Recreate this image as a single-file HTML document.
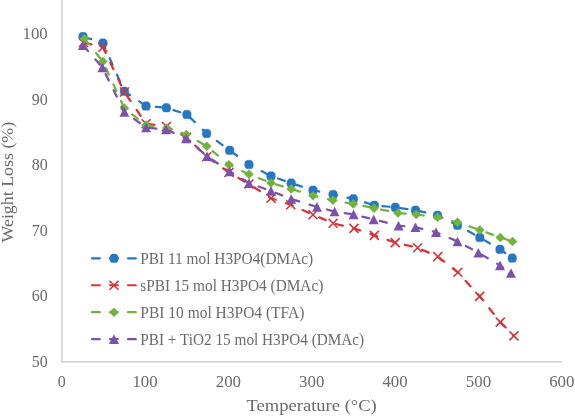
<!DOCTYPE html>
<html><head><meta charset="utf-8"><style>
html,body{margin:0;padding:0;background:#fff;overflow:hidden}
svg{display:block;will-change:transform}
text{font-family:"Liberation Serif",serif;fill:#6a6a6a}
</style></head><body>
<svg width="575" height="416" viewBox="0 0 575 416">
<rect width="575" height="416" fill="#fff"/>
<path d="M61.9,0V361.9H562" fill="none" stroke="#D6D6D6" stroke-width="1.8" stroke-linejoin="round"/>
<g font-size="16"><text x="47.8" y="39.10" text-anchor="end" textLength="25.3" lengthAdjust="spacingAndGlyphs">100</text><text x="47.8" y="104.65" text-anchor="end">90</text><text x="47.8" y="170.20" text-anchor="end">80</text><text x="47.8" y="235.75" text-anchor="end">70</text><text x="47.8" y="301.30" text-anchor="end">60</text><text x="47.8" y="366.85" text-anchor="end">50</text><text x="61.70" y="387" text-anchor="middle">0</text><text x="145.05" y="387" text-anchor="middle" textLength="25.3" lengthAdjust="spacingAndGlyphs">100</text><text x="228.40" y="387" text-anchor="middle" textLength="25.3" lengthAdjust="spacingAndGlyphs">200</text><text x="311.75" y="387" text-anchor="middle" textLength="25.3" lengthAdjust="spacingAndGlyphs">300</text><text x="395.10" y="387" text-anchor="middle" textLength="25.3" lengthAdjust="spacingAndGlyphs">400</text><text x="478.45" y="387" text-anchor="middle" textLength="25.3" lengthAdjust="spacingAndGlyphs">500</text><text x="561.80" y="387" text-anchor="middle" textLength="25.3" lengthAdjust="spacingAndGlyphs">600</text></g>
<g font-size="16"><path d="M92,258.30H136" stroke="#2577C3" stroke-width="2.2" stroke-dasharray="7.8 10.2" stroke-linecap="round"/><path d="M111.88,254.07L116.12,254.07L117.96,255.91L118.42,258.85L117.59,261.70L116.39,262.53L111.61,262.53L110.41,261.70L109.58,258.85L110.04,255.91Z" fill="#2577C3" stroke="#2577C3" stroke-width="0.4" stroke-linejoin="round"/><text x="140.3" y="263.90" textLength="172.9" lengthAdjust="spacingAndGlyphs">PBI 11 mol H3PO4(DMAc)</text><path d="M92,285.25H136" stroke="#DA3238" stroke-width="2.2" stroke-dasharray="7.8 10.2" stroke-linecap="round"/><path d="M109.50,280.75L118.50,289.75M118.50,280.75L109.50,289.75" stroke="#DA3238" stroke-width="1.6" fill="none"/><text x="140.3" y="290.85" textLength="183.0" lengthAdjust="spacingAndGlyphs">sPBI 15 mol H3PO4 (DMAc)</text><path d="M92,312.20H136" stroke="#72B33E" stroke-width="2.2" stroke-dasharray="7.8 10.2" stroke-linecap="round"/><path d="M114,307.40L118.80,312.2L114,317.00L109.20,312.2Z" fill="#72B33E"/><text x="140.3" y="317.80" textLength="164.1" lengthAdjust="spacingAndGlyphs">PBI 10 mol H3PO4 (TFA)</text><path d="M92,339.15H136" stroke="#7B52AB" stroke-width="2.2" stroke-dasharray="7.8 10.2" stroke-linecap="round"/><path d="M114,334.35L118.99,343.95L109.01,343.95Z" fill="#7B52AB"/><text x="140.3" y="344.75" textLength="223.9" lengthAdjust="spacingAndGlyphs">PBI + TiO2 15 mol H3PO4 (DMAc)</text></g>
<text x="246.5" y="411.4" font-size="17" textLength="130.3" lengthAdjust="spacingAndGlyphs">Temperature (°C)</text>
<text transform="translate(13,242.5) rotate(-90)" font-size="16.5" textLength="120.7" lengthAdjust="spacingAndGlyphs">Weight Loss (%)</text>
<polyline points="83,36.5 102.9,43 124.4,91.3 146,106 166.4,107.8 186.9,114.5 206.6,133.4 229.7,150.3 249,164.5 271,176 291.2,183.1 313,190.2 333.1,194.5 353.3,198.8 374.3,205.3 395.3,207.3 415.5,210.2 437.5,215.3 457.5,225.2 479.8,237.5 500,249.3 512.3,258.1" fill="none" stroke="#2577C3" stroke-width="2.25" stroke-dasharray="7.1 10.95" stroke-dashoffset="16.6" stroke-linecap="round" stroke-linejoin="round"/><path d="M80.88,32.27L85.12,32.27L86.96,34.11L87.42,37.05L86.59,39.90L85.39,40.73L80.61,40.73L79.41,39.90L78.58,37.05L79.04,34.11Z" fill="#2577C3" stroke="#2577C3" stroke-width="0.4" stroke-linejoin="round"/><path d="M100.78,38.77L105.02,38.77L106.86,40.61L107.32,43.55L106.49,46.40L105.29,47.23L100.51,47.23L99.31,46.40L98.48,43.55L98.94,40.61Z" fill="#2577C3" stroke="#2577C3" stroke-width="0.4" stroke-linejoin="round"/><path d="M122.28,87.07L126.52,87.07L128.36,88.91L128.82,91.85L127.99,94.70L126.79,95.53L122.01,95.53L120.81,94.70L119.98,91.85L120.44,88.91Z" fill="#2577C3" stroke="#2577C3" stroke-width="0.4" stroke-linejoin="round"/><path d="M143.88,101.77L148.12,101.77L149.96,103.61L150.42,106.55L149.59,109.40L148.39,110.23L143.61,110.23L142.41,109.40L141.58,106.55L142.04,103.61Z" fill="#2577C3" stroke="#2577C3" stroke-width="0.4" stroke-linejoin="round"/><path d="M164.28,103.57L168.52,103.57L170.36,105.41L170.82,108.35L169.99,111.20L168.79,112.03L164.01,112.03L162.81,111.20L161.98,108.35L162.44,105.41Z" fill="#2577C3" stroke="#2577C3" stroke-width="0.4" stroke-linejoin="round"/><path d="M184.78,110.27L189.02,110.27L190.86,112.11L191.32,115.05L190.49,117.90L189.29,118.73L184.51,118.73L183.31,117.90L182.48,115.05L182.94,112.11Z" fill="#2577C3" stroke="#2577C3" stroke-width="0.4" stroke-linejoin="round"/><path d="M204.48,129.17L208.72,129.17L210.56,131.01L211.02,133.95L210.19,136.80L208.99,137.63L204.21,137.63L203.01,136.80L202.18,133.95L202.64,131.01Z" fill="#2577C3" stroke="#2577C3" stroke-width="0.4" stroke-linejoin="round"/><path d="M227.58,146.07L231.82,146.07L233.66,147.91L234.12,150.85L233.29,153.70L232.09,154.53L227.31,154.53L226.11,153.70L225.28,150.85L225.74,147.91Z" fill="#2577C3" stroke="#2577C3" stroke-width="0.4" stroke-linejoin="round"/><path d="M246.88,160.27L251.12,160.27L252.96,162.11L253.42,165.05L252.59,167.90L251.39,168.73L246.61,168.73L245.41,167.90L244.58,165.05L245.04,162.11Z" fill="#2577C3" stroke="#2577C3" stroke-width="0.4" stroke-linejoin="round"/><path d="M268.88,171.77L273.12,171.77L274.96,173.61L275.42,176.55L274.59,179.40L273.39,180.23L268.61,180.23L267.41,179.40L266.58,176.55L267.04,173.61Z" fill="#2577C3" stroke="#2577C3" stroke-width="0.4" stroke-linejoin="round"/><path d="M289.08,178.87L293.32,178.87L295.16,180.71L295.62,183.65L294.79,186.50L293.59,187.33L288.81,187.33L287.61,186.50L286.78,183.65L287.24,180.71Z" fill="#2577C3" stroke="#2577C3" stroke-width="0.4" stroke-linejoin="round"/><path d="M310.88,185.97L315.12,185.97L316.96,187.81L317.42,190.75L316.59,193.60L315.39,194.43L310.61,194.43L309.41,193.60L308.58,190.75L309.04,187.81Z" fill="#2577C3" stroke="#2577C3" stroke-width="0.4" stroke-linejoin="round"/><path d="M330.98,190.27L335.22,190.27L337.06,192.11L337.52,195.05L336.69,197.90L335.49,198.73L330.71,198.73L329.51,197.90L328.68,195.05L329.14,192.11Z" fill="#2577C3" stroke="#2577C3" stroke-width="0.4" stroke-linejoin="round"/><path d="M351.18,194.57L355.42,194.57L357.26,196.41L357.72,199.35L356.89,202.20L355.69,203.03L350.91,203.03L349.71,202.20L348.88,199.35L349.34,196.41Z" fill="#2577C3" stroke="#2577C3" stroke-width="0.4" stroke-linejoin="round"/><path d="M372.18,201.07L376.42,201.07L378.26,202.91L378.72,205.85L377.89,208.70L376.69,209.53L371.91,209.53L370.71,208.70L369.88,205.85L370.34,202.91Z" fill="#2577C3" stroke="#2577C3" stroke-width="0.4" stroke-linejoin="round"/><path d="M393.18,203.07L397.42,203.07L399.26,204.91L399.72,207.85L398.89,210.70L397.69,211.53L392.91,211.53L391.71,210.70L390.88,207.85L391.34,204.91Z" fill="#2577C3" stroke="#2577C3" stroke-width="0.4" stroke-linejoin="round"/><path d="M413.38,205.97L417.62,205.97L419.46,207.81L419.92,210.75L419.09,213.60L417.89,214.43L413.11,214.43L411.91,213.60L411.08,210.75L411.54,207.81Z" fill="#2577C3" stroke="#2577C3" stroke-width="0.4" stroke-linejoin="round"/><path d="M435.38,211.07L439.62,211.07L441.46,212.91L441.92,215.85L441.09,218.70L439.89,219.53L435.11,219.53L433.91,218.70L433.08,215.85L433.54,212.91Z" fill="#2577C3" stroke="#2577C3" stroke-width="0.4" stroke-linejoin="round"/><path d="M455.38,220.97L459.62,220.97L461.46,222.81L461.92,225.75L461.09,228.60L459.89,229.43L455.11,229.43L453.91,228.60L453.08,225.75L453.54,222.81Z" fill="#2577C3" stroke="#2577C3" stroke-width="0.4" stroke-linejoin="round"/><path d="M477.68,233.27L481.92,233.27L483.76,235.11L484.22,238.05L483.39,240.90L482.19,241.73L477.41,241.73L476.21,240.90L475.38,238.05L475.84,235.11Z" fill="#2577C3" stroke="#2577C3" stroke-width="0.4" stroke-linejoin="round"/><path d="M497.88,245.07L502.12,245.07L503.96,246.91L504.42,249.85L503.59,252.70L502.39,253.53L497.61,253.53L496.41,252.70L495.58,249.85L496.04,246.91Z" fill="#2577C3" stroke="#2577C3" stroke-width="0.4" stroke-linejoin="round"/><path d="M510.18,253.87L514.42,253.87L516.26,255.71L516.72,258.65L515.89,261.50L514.69,262.33L509.91,262.33L508.71,261.50L507.88,258.65L508.34,255.71Z" fill="#2577C3" stroke="#2577C3" stroke-width="0.4" stroke-linejoin="round"/><polyline points="83.5,42.5 102.9,47.3 124.4,92 146.1,123.8 166.5,126.5 186.6,137.2 206.7,156.7 229,172.5 249,184 271,198.3 290.8,204.8 313,214.7 333.1,223.3 354,228.4 374.4,235.4 395.3,242.6 417.6,247.8 437.8,256.6 457.9,272.3 479.7,296.4 500.3,322.1 513.9,335.9" fill="none" stroke="#DA3238" stroke-width="2.25" stroke-dasharray="7.1 10.95" stroke-dashoffset="17.0" stroke-linecap="round" stroke-linejoin="round"/><path d="M79.00,38.00L88.00,47.00M88.00,38.00L79.00,47.00" stroke="#DA3238" stroke-width="1.6" fill="none"/><path d="M98.40,42.80L107.40,51.80M107.40,42.80L98.40,51.80" stroke="#DA3238" stroke-width="1.6" fill="none"/><path d="M119.90,87.50L128.90,96.50M128.90,87.50L119.90,96.50" stroke="#DA3238" stroke-width="1.6" fill="none"/><path d="M141.60,119.30L150.60,128.30M150.60,119.30L141.60,128.30" stroke="#DA3238" stroke-width="1.6" fill="none"/><path d="M162.00,122.00L171.00,131.00M171.00,122.00L162.00,131.00" stroke="#DA3238" stroke-width="1.6" fill="none"/><path d="M182.10,132.70L191.10,141.70M191.10,132.70L182.10,141.70" stroke="#DA3238" stroke-width="1.6" fill="none"/><path d="M202.20,152.20L211.20,161.20M211.20,152.20L202.20,161.20" stroke="#DA3238" stroke-width="1.6" fill="none"/><path d="M224.50,168.00L233.50,177.00M233.50,168.00L224.50,177.00" stroke="#DA3238" stroke-width="1.6" fill="none"/><path d="M244.50,179.50L253.50,188.50M253.50,179.50L244.50,188.50" stroke="#DA3238" stroke-width="1.6" fill="none"/><path d="M266.50,193.80L275.50,202.80M275.50,193.80L266.50,202.80" stroke="#DA3238" stroke-width="1.6" fill="none"/><path d="M286.30,200.30L295.30,209.30M295.30,200.30L286.30,209.30" stroke="#DA3238" stroke-width="1.6" fill="none"/><path d="M308.50,210.20L317.50,219.20M317.50,210.20L308.50,219.20" stroke="#DA3238" stroke-width="1.6" fill="none"/><path d="M328.60,218.80L337.60,227.80M337.60,218.80L328.60,227.80" stroke="#DA3238" stroke-width="1.6" fill="none"/><path d="M349.50,223.90L358.50,232.90M358.50,223.90L349.50,232.90" stroke="#DA3238" stroke-width="1.6" fill="none"/><path d="M369.90,230.90L378.90,239.90M378.90,230.90L369.90,239.90" stroke="#DA3238" stroke-width="1.6" fill="none"/><path d="M390.80,238.10L399.80,247.10M399.80,238.10L390.80,247.10" stroke="#DA3238" stroke-width="1.6" fill="none"/><path d="M413.10,243.30L422.10,252.30M422.10,243.30L413.10,252.30" stroke="#DA3238" stroke-width="1.6" fill="none"/><path d="M433.30,252.10L442.30,261.10M442.30,252.10L433.30,261.10" stroke="#DA3238" stroke-width="1.6" fill="none"/><path d="M453.40,267.80L462.40,276.80M462.40,267.80L453.40,276.80" stroke="#DA3238" stroke-width="1.6" fill="none"/><path d="M475.20,291.90L484.20,300.90M484.20,291.90L475.20,300.90" stroke="#DA3238" stroke-width="1.6" fill="none"/><path d="M495.80,317.60L504.80,326.60M504.80,317.60L495.80,326.60" stroke="#DA3238" stroke-width="1.6" fill="none"/><path d="M509.40,331.40L518.40,340.40M518.40,331.40L509.40,340.40" stroke="#DA3238" stroke-width="1.6" fill="none"/><polyline points="84.4,38.7 102.9,61.5 124.4,108.3 146.1,125.2 166.7,128.1 186.4,134.6 206.8,146.3 229,164.7 249,174.3 271,182.9 291.2,188.9 313,195.7 332.9,200.3 353.3,203.9 374,208.1 398,213 416.2,214.5 437.5,217.3 457.5,222.3 479.8,230 500.3,237.5 512.5,241.5" fill="none" stroke="#72B33E" stroke-width="2.25" stroke-dasharray="7.1 10.95" stroke-dashoffset="17.6" stroke-linecap="round" stroke-linejoin="round"/><path d="M84.4,33.90L89.20,38.7L84.4,43.50L79.60,38.7Z" fill="#72B33E"/><path d="M102.9,56.70L107.70,61.5L102.9,66.30L98.10,61.5Z" fill="#72B33E"/><path d="M124.4,103.50L129.20,108.3L124.4,113.10L119.60,108.3Z" fill="#72B33E"/><path d="M146.1,120.40L150.90,125.2L146.1,130.00L141.30,125.2Z" fill="#72B33E"/><path d="M166.7,123.30L171.50,128.1L166.7,132.90L161.90,128.1Z" fill="#72B33E"/><path d="M186.4,129.80L191.20,134.6L186.4,139.40L181.60,134.6Z" fill="#72B33E"/><path d="M206.8,141.50L211.60,146.3L206.8,151.10L202.00,146.3Z" fill="#72B33E"/><path d="M229,159.90L233.80,164.7L229,169.50L224.20,164.7Z" fill="#72B33E"/><path d="M249,169.50L253.80,174.3L249,179.10L244.20,174.3Z" fill="#72B33E"/><path d="M271,178.10L275.80,182.9L271,187.70L266.20,182.9Z" fill="#72B33E"/><path d="M291.2,184.10L296.00,188.9L291.2,193.70L286.40,188.9Z" fill="#72B33E"/><path d="M313,190.90L317.80,195.7L313,200.50L308.20,195.7Z" fill="#72B33E"/><path d="M332.9,195.50L337.70,200.3L332.9,205.10L328.10,200.3Z" fill="#72B33E"/><path d="M353.3,199.10L358.10,203.9L353.3,208.70L348.50,203.9Z" fill="#72B33E"/><path d="M374,203.30L378.80,208.1L374,212.90L369.20,208.1Z" fill="#72B33E"/><path d="M398,208.20L402.80,213L398,217.80L393.20,213Z" fill="#72B33E"/><path d="M416.2,209.70L421.00,214.5L416.2,219.30L411.40,214.5Z" fill="#72B33E"/><path d="M437.5,212.50L442.30,217.3L437.5,222.10L432.70,217.3Z" fill="#72B33E"/><path d="M457.5,217.50L462.30,222.3L457.5,227.10L452.70,222.3Z" fill="#72B33E"/><path d="M479.8,225.20L484.60,230L479.8,234.80L475.00,230Z" fill="#72B33E"/><path d="M500.3,232.70L505.10,237.5L500.3,242.30L495.50,237.5Z" fill="#72B33E"/><path d="M512.5,236.70L517.30,241.5L512.5,246.30L507.70,241.5Z" fill="#72B33E"/><polyline points="83,45.2 102.4,67.5 124.4,112 146.1,127.5 166,129.5 186.2,138.5 207.2,156.3 229.7,171.5 249,183.1 271,191 291.2,199 317,206.9 334.6,211.5 353.6,214.4 373.7,219.4 398.6,225.7 415.5,227.3 436,232.1 457.5,241.5 478.4,252.7 500,265.4 511,273" fill="none" stroke="#7B52AB" stroke-width="2.25" stroke-dasharray="7.1 10.95" stroke-dashoffset="17.3" stroke-linecap="round" stroke-linejoin="round"/><path d="M83,40.40L87.99,50.00L78.01,50.00Z" fill="#7B52AB"/><path d="M102.4,62.70L107.39,72.30L97.41,72.30Z" fill="#7B52AB"/><path d="M124.4,107.20L129.39,116.80L119.41,116.80Z" fill="#7B52AB"/><path d="M146.1,122.70L151.09,132.30L141.11,132.30Z" fill="#7B52AB"/><path d="M166,124.70L170.99,134.30L161.01,134.30Z" fill="#7B52AB"/><path d="M186.2,133.70L191.19,143.30L181.21,143.30Z" fill="#7B52AB"/><path d="M207.2,151.50L212.19,161.10L202.21,161.10Z" fill="#7B52AB"/><path d="M229.7,166.70L234.69,176.30L224.71,176.30Z" fill="#7B52AB"/><path d="M249,178.30L253.99,187.90L244.01,187.90Z" fill="#7B52AB"/><path d="M271,186.20L275.99,195.80L266.01,195.80Z" fill="#7B52AB"/><path d="M291.2,194.20L296.19,203.80L286.21,203.80Z" fill="#7B52AB"/><path d="M317,202.10L321.99,211.70L312.01,211.70Z" fill="#7B52AB"/><path d="M334.6,206.70L339.59,216.30L329.61,216.30Z" fill="#7B52AB"/><path d="M353.6,209.60L358.59,219.20L348.61,219.20Z" fill="#7B52AB"/><path d="M373.7,214.60L378.69,224.20L368.71,224.20Z" fill="#7B52AB"/><path d="M398.6,220.90L403.59,230.50L393.61,230.50Z" fill="#7B52AB"/><path d="M415.5,222.50L420.49,232.10L410.51,232.10Z" fill="#7B52AB"/><path d="M436,227.30L440.99,236.90L431.01,236.90Z" fill="#7B52AB"/><path d="M457.5,236.70L462.49,246.30L452.51,246.30Z" fill="#7B52AB"/><path d="M478.4,247.90L483.39,257.50L473.41,257.50Z" fill="#7B52AB"/><path d="M500,260.60L504.99,270.20L495.01,270.20Z" fill="#7B52AB"/><path d="M511,268.20L515.99,277.80L506.01,277.80Z" fill="#7B52AB"/>
</svg>
</body></html>
